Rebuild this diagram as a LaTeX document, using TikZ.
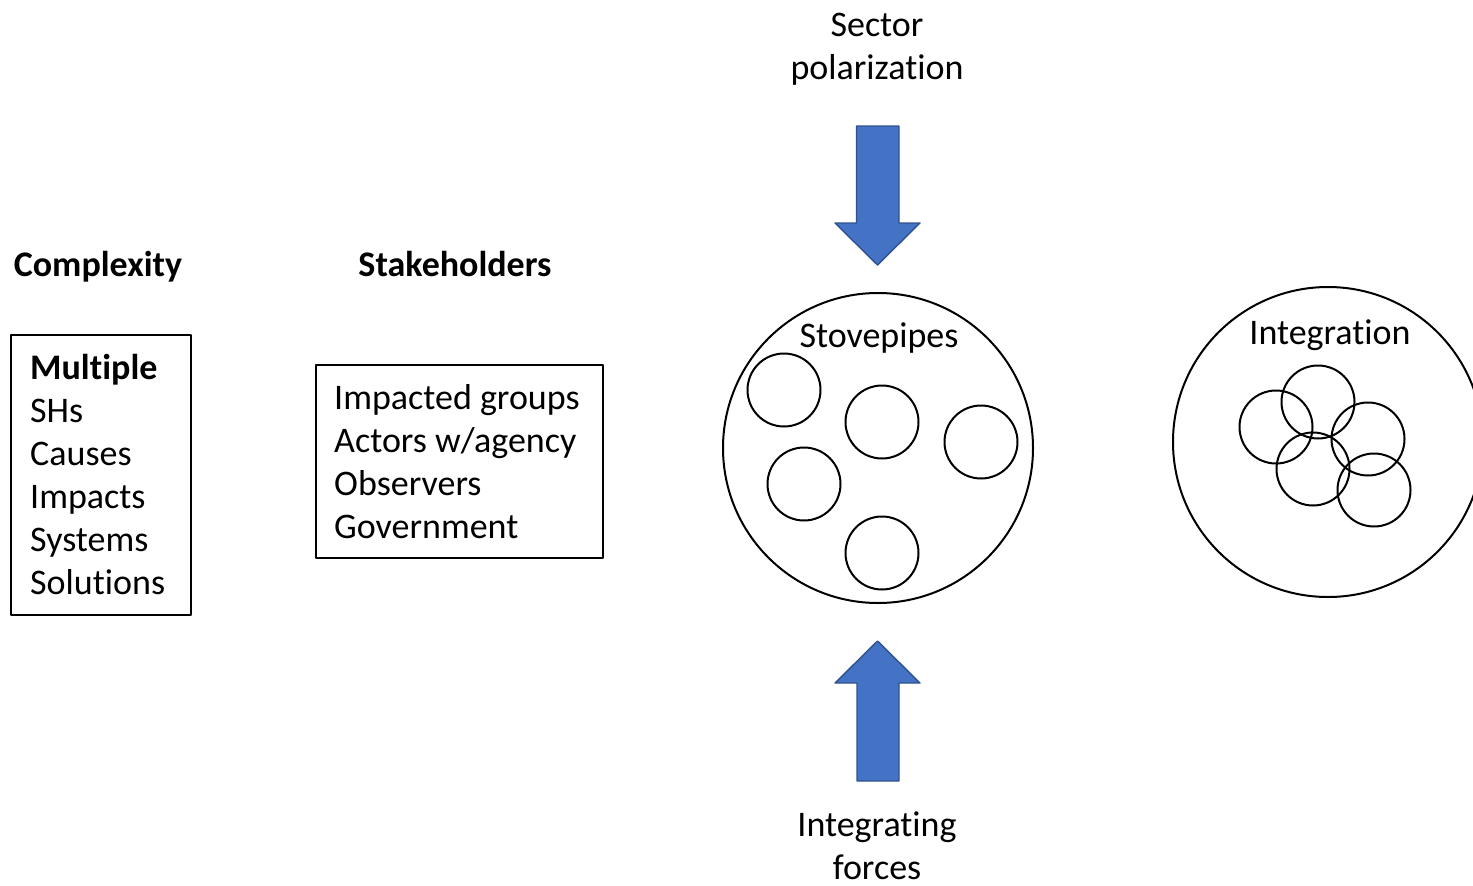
\documentclass[tikz,border=0pt]{standalone}
\usepackage{fontspec}
\setmainfont{Carlito}[Ligatures=NoCommon]
\definecolor{officeblue}{HTML}{4472C4}
\definecolor{officeedge}{HTML}{2F528F}
\begin{document}
\begin{tikzpicture}[x=1pt, y=-1pt, line join=round,
  txt/.style={font=\fontsize{36}{43}\selectfont, inner sep=0pt},
  head/.style={txt, font=\fontsize{36}{43}\selectfont\bfseries},
  listbox/.style={draw, line width=1.8pt, anchor=north west},
  listtxt/.style={txt, align=left, anchor=west},
  ring/.style={draw, circle, line width=2pt, inner sep=0pt, minimum size=#1},
  blockarrow/.style={fill=officeblue, draw=officeedge, line width=1.4pt}]
\useasboundingbox (0,0) rectangle (1473,886);
\clip (0,0) rectangle (1473,886);
% left hand lists
\node[head, anchor=base] (cplx) at (98,276) {Complexity};
\node[head, anchor=base] (shold) at (455,276) {Stakeholders};
\node[listbox, minimum width=180pt, minimum height=280pt] (cbox) at (10,334) {};
\node[listtxt] (clist) at ([xshift=20pt]cbox.west)
  {\textbf{Multiple}\\SHs\\Causes\\Impacts\\Systems\\Solutions};
\node[listbox, minimum width=287pt, minimum height=193pt] (sbox) at (315,364) {};
\node[listtxt] (slist) at ([xshift=19pt]sbox.west)
  {Impacted groups\\Actors w/agency\\Observers\\Government};
% stovepipes
\node[ring=310pt] (stove) at (878,448) {};
\node[txt, anchor=base] at (879,347) {Stovepipes};
\foreach \p/\q [count=\i] in {784/390, 882/422, 981/442, 804/484, 882/553}
  \node[ring=73pt] (st\i) at (\p,\q) {};
% integration
\node[ring=310pt] (integ) at (1328,442) {};
\node[txt, anchor=base] at (1330,344) {Integration};
\foreach \p/\q [count=\i] in {1276/427, 1318/402, 1368/439, 1313/469, 1374/490}
  \node[ring=73pt] (in\i) at (\p,\q) {};
% forces
\node[txt, align=center, anchor=base] (sector) at (877,79) {Sector\\polarization};
\node[txt, align=center, anchor=base] (forces) at (877,879) {Integrating\\forces};
\filldraw[blockarrow] (856.5,126)--(899,126)--(899,223)--(920,223)--(877.5,265)
  --(835,223)--(856.5,223)--cycle;
\filldraw[blockarrow] (857,781)--(899,781)--(899,683)--(920,683)--(877.5,641)
  --(835,683)--(857,683)--cycle;
\end{tikzpicture}
\end{document}
